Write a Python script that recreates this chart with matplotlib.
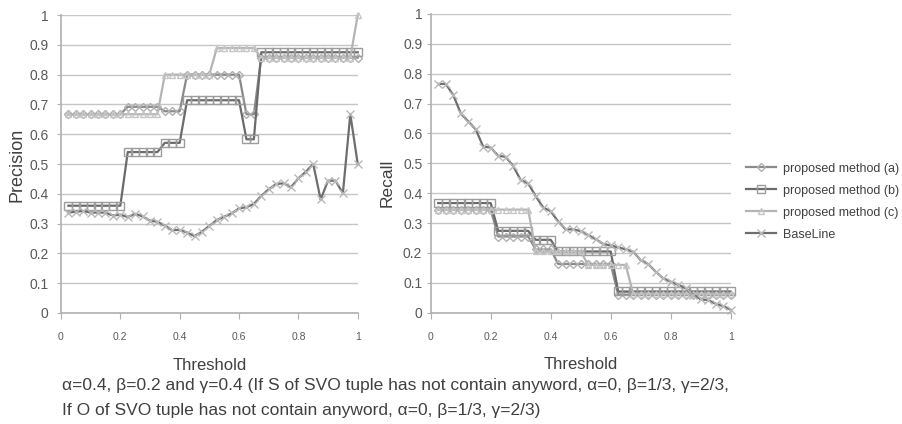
import matplotlib
matplotlib.use('Agg')
import matplotlib.pyplot as plt
from matplotlib.lines import Line2D

# thresholds
thr = [0.025, 0.05, 0.075, 0.1, 0.125, 0.15, 0.175, 0.2, 0.225, 0.25,
       0.275, 0.3, 0.325, 0.35, 0.375, 0.4, 0.425, 0.45, 0.475, 0.5,
       0.525, 0.55, 0.575, 0.6, 0.625, 0.65, 0.675, 0.7, 0.725, 0.75,
       0.775, 0.8, 0.825, 0.85, 0.875, 0.9, 0.925, 0.95, 0.975, 1.0]

prec_a = [0.667] * 8 + [0.692] * 5 + [0.677] * 3 + [0.8] * 8 + [0.667] * 2 + [0.857] * 14
prec_b = [0.36] * 8 + [0.54] * 5 + [0.571] * 3 + [0.714] * 8 + [0.583] * 2 + [0.875] * 14
prec_c = [0.667] * 13 + [0.8] * 7 + [0.889] * 6 + [0.857] * 13 + [1.0]
prec_base = [0.337, 0.340, 0.342, 0.337, 0.337, 0.337, 0.327, 0.330, 0.322, 0.333,
             0.324, 0.310, 0.306, 0.293, 0.278, 0.279, 0.270, 0.258, 0.273, 0.292,
             0.312, 0.323, 0.334, 0.351, 0.355, 0.366, 0.393, 0.415, 0.433, 0.435,
             0.422, 0.452, 0.474, 0.500, 0.381, 0.444, 0.444, 0.402, 0.667, 0.500]

rec_a = [0.345] * 8 + [0.255] * 5 + [0.212] * 3 + [0.163] * 8 + [0.06] * 16
rec_b = [0.367] * 8 + [0.274] * 5 + [0.244] * 3 + [0.205] * 8 + [0.071] * 16
rec_c = [0.345] * 13 + [0.205] * 7 + [0.16] * 6 + [0.063] * 14
rec_base = [0.766, 0.766, 0.729, 0.668, 0.640, 0.614, 0.556, 0.553, 0.525, 0.522,
            0.491, 0.444, 0.433, 0.390, 0.352, 0.340, 0.305, 0.279, 0.279, 0.273,
            0.260, 0.246, 0.230, 0.225, 0.219, 0.212, 0.204, 0.176, 0.163, 0.137,
            0.115, 0.104, 0.093, 0.082, 0.060, 0.045, 0.042, 0.030, 0.022, 0.010]

labels = ['proposed method (a)', 'proposed method (b)', 'proposed method (c)', 'BaseLine']
yticks = [0, 0.1, 0.2, 0.3, 0.4, 0.5, 0.6, 0.7, 0.8, 0.9, 1]
ylabels = ['0', '0.1', '0.2', '0.3', '0.4', '0.5', '0.6', '0.7', '0.8', '0.9', '1']
xticks = [0, 0.2, 0.4, 0.6, 0.8, 1]
xlabels = ['0', '0.2', '0.4', '0.6', '0.8', '1']

plt.rcParams['font.family'] = ['Liberation Sans', 'DejaVu Sans']

# line colour, marker, marker edge, marker size
styles = [
    ('#8a8a8a', 'D', '#b0b0b0', 4.5),
    ('#6b6b6b', 's', '#9c9c9c', 6),
    ('#b4b4b4', '^', '#c6c6c6', 5),
    ('#6e6e6e', 'x', '#b8b8b8', 6),
]

fig = plt.figure(figsize=(9.02, 4.24), dpi=100)
ax1 = fig.add_axes([0.0676, 0.2618, 0.329, 0.7028])
ax2 = fig.add_axes([0.4775, 0.2625, 0.3326, 0.7045])


def draw(ax, series, pad):
    for ys, (lc, mk, mc, ms) in zip(series, styles):
        ax.plot(thr, ys, color=lc, lw=1.6, marker=mk, ms=ms, mec=mc,
                mfc='none' if mk != 'x' else mc, mew=1.0, clip_on=False)
    ax.set_xlim(0, 1)
    ax.set_ylim(0, 1)
    ax.set_yticks(yticks)
    ax.set_yticklabels(ylabels)
    ax.set_xticks(xticks)
    ax.set_xticklabels(xlabels)
    ax.grid(axis='y', color='#c6c6c6', lw=1.0)
    ax.set_axisbelow(True)
    for s in ['top', 'right']:
        ax.spines[s].set_visible(False)
    for s in ['left', 'bottom']:
        ax.spines[s].set_color('#b0b0b0')
        ax.spines[s].set_linewidth(1.2)
    ax.tick_params(axis='y', length=3, color='#b0b0b0', pad=pad,
                   labelsize=10, labelcolor='#595959')
    ax.tick_params(axis='x', length=4, color='#b0b0b0', pad=10,
                   labelsize=7.5, labelcolor='#595959')
    ax.set_xlabel('Threshold', fontsize=12, color='#404040', labelpad=11)


draw(ax1, [prec_a, prec_b, prec_c, prec_base], 6)
draw(ax2, [rec_a, rec_b, rec_c, rec_base], 3)

fig.text(0.019, 0.612, 'Precision', rotation=90, ha='center', va='center',
         fontsize=13, color='#404040')
fig.text(0.429, 0.568, 'Recall', rotation=90, ha='center', va='center',
         fontsize=12.5, color='#404040')

handles = [Line2D([], [], color=lc, lw=1.6, marker=mk, ms=ms, mec=mc,
                  mfc='none' if mk != 'x' else mc, mew=1.0)
           for (lc, mk, mc, ms) in styles]
fig.legend(handles, labels, loc='upper left', bbox_to_anchor=(0.815, 0.643),
           frameon=False, fontsize=9, labelspacing=0.8, handlelength=2.4,
           handletextpad=0.5, labelcolor='#404040')

fig.text(0.069, 0.090,
         'α=0.4, β=0.2 and γ=0.4 (If S of SVO tuple has not contain anyword, α=0, β=1/3, γ=2/3,',
         fontsize=12.5, color='#404040', va='center')
fig.text(0.069, 0.031,
         'If O of SVO tuple has not contain anyword, α=0, β=1/3, γ=2/3)',
         fontsize=12.5, color='#404040', va='center')

fig.savefig('out.png', dpi=100)
